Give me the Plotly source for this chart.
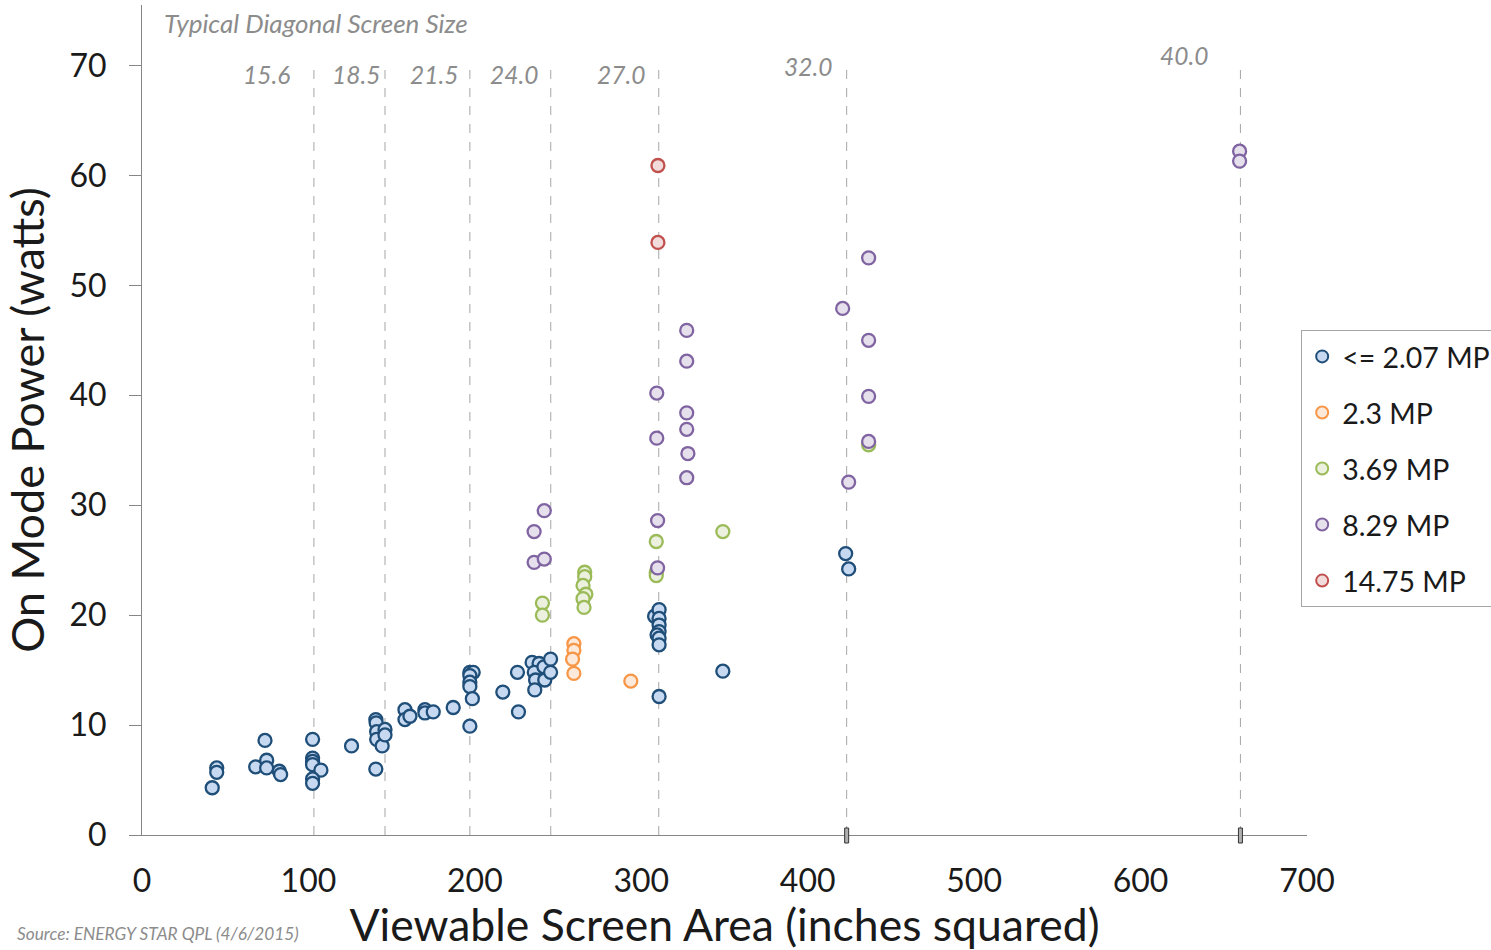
import plotly.graph_objects as go

# ---------------- data ----------------
blue_x = [42.2, 44.9, 44.9, 68.3, 73.9, 74.9, 74.9, 82.5, 83.3, 102.5, 102.5, 102.5, 102.5, 107.5, 102.5, 102.5, 125.9,
          140.5, 140.7, 141.0, 141.0, 144.3, 146.0, 146.0, 140.5,
          158.0, 158.0, 161.0, 170.0, 170.0, 175.0, 187.0,
          197.0, 199.0, 197.0, 197.0, 197.0, 198.5, 197.0,
          216.8, 225.6, 226.2,
          234.4, 238.6, 235.7, 236.5, 236.0, 241.5, 242.0, 245.5, 245.5,
          308.0, 310.7, 310.7, 310.7, 310.7, 309.5, 310.7, 310.7, 310.7, 349.0, 422.8, 424.6]
blue_y = [4.3, 6.1, 5.7, 6.2, 8.6, 6.8, 6.1, 5.8, 5.5, 8.7, 7.0, 6.7, 6.4, 5.9, 5.1, 4.7, 8.1,
          10.5, 10.2, 9.4, 8.7, 8.1, 9.6, 9.1, 6.0,
          11.4, 10.5, 10.8, 11.4, 11.1, 11.2, 11.6,
          14.8, 14.8, 14.5, 13.9, 13.5, 12.4, 9.9,
          13.0, 14.8, 11.2,
          15.7, 15.6, 14.8, 14.1, 13.2, 15.3, 14.1, 16.0, 14.8,
          19.9, 20.5, 19.7, 19.1, 18.5, 18.2, 17.9, 17.3, 12.6, 14.9, 25.6, 24.2]

orange_x = [259.5, 259.5, 258.7, 259.5, 293.7]
orange_y = [17.4, 16.8, 16.0, 14.7, 14.0]

green_x = [240.6, 240.6, 266.0, 266.0, 265.0, 266.7, 265.0, 265.6, 309.0, 309.0, 309.0, 349.0, 436.6]
green_y = [21.1, 20.0, 23.9, 23.5, 22.7, 21.9, 21.5, 20.7, 26.7, 23.9, 23.6, 27.6, 35.5]

purple_x = [235.6, 241.7, 235.6, 241.7, 309.3, 309.3, 309.8, 309.8, 327.3, 327.3, 327.3, 327.3, 328.0, 327.3,
            421.0, 436.6, 436.6, 436.6, 436.6, 424.6, 659.5, 659.5]
purple_y = [27.6, 29.5, 24.8, 25.1, 40.2, 36.1, 28.6, 24.3, 45.9, 43.1, 38.4, 36.9, 34.7, 32.5,
            47.9, 52.5, 45.0, 39.9, 35.8, 32.1, 62.2, 61.3]

red_x = [310.0, 310.0]
red_y = [60.9, 53.9]

series_names = ["<= 2.07 MP", "2.3 MP", "3.69 MP", "8.29 MP", "14.75 MP"]

diag_labels = ["15.6", "18.5", "21.5", "24.0", "27.0", "32.0", "40.0"]
diag_area = [103.3, 146.0, 197.0, 245.6, 310.5, 423.4, 660.0]

x_ticks = [0, 100, 200, 300, 400, 500, 600, 700]
y_ticks = [0, 10, 20, 30, 40, 50, 60, 70]

# ---------------- styling ----------------
fills = ["#c6d9f1", "#fde9d9", "#ebf1de", "#e5e0ec", "#f2dcdb"]
edges = ["#1f4e79", "#f79646", "#9bbb59", "#8064a2", "#c0504d"]
label_gap_px = [22, 3, 10, 11, 12, 13, 30]
label_y = [69.2, 69.2, 69.2, 69.2, 69.2, 69.9, 70.9]
FONT = "Lato"
GREY = "#8c8c8c"
INK = "#1a1a1a"

fig = go.Figure()

# diagonal-size guide lines
for a in diag_area:
    fig.add_shape(type="line", x0=a, x1=a, y0=0, y1=69.8, xref="x", yref="y",
                  line=dict(color="#a6a6a6", width=1, dash="dash"), layer="below")
for a in diag_area[5:]:
    fig.add_shape(type="rect", xref="x", yref="paper", xsizemode="pixel", ysizemode="pixel",
                  xanchor=a, yanchor=0, x0=-2, x1=2, y0=-8, y1=7,
                  line=dict(color="#333333", width=1), fillcolor="#b0b0b0")
for lab, a, g, ly in zip(diag_labels, diag_area, label_gap_px, label_y):
    fig.add_annotation(x=a, y=ly, xref="x", yref="y", text=lab, showarrow=False,
                       xanchor="right", yanchor="middle", xshift=-g,
                       font=dict(family=FONT, size=24.5, color=GREY, style="italic"))

xs = [blue_x, orange_x, green_x, purple_x, red_x]
ys = [blue_y, orange_y, green_y, purple_y, red_y]
for i, (name, x, y) in enumerate(zip(series_names, xs, ys)):
    fig.add_trace(go.Scatter(
        x=x, y=y, mode="markers", name=name, legendgroup=name,
        marker=dict(size=13, color=fills[i], line=dict(color=edges[i], width=2.3)),
    ))

fig.add_annotation(x=20 / 1165, y=1.0, xref="paper", yref="paper", xanchor="left", yanchor="top",
                   text="Typical Diagonal Screen Size", showarrow=False, yshift=0,
                   font=dict(family=FONT, size=26, color=GREY, style="italic"))

fig.add_annotation(x=-127 / 1165, y=-111 / 830, xref="paper", yref="paper",
                   xanchor="left", yanchor="bottom", showarrow=False,
                   text="Source: ENERGY STAR QPL (4/6/2015)",
                   font=dict(family=FONT, size=17.3, color=GREY, style="italic"))

fig.update_layout(
    width=1491, height=950,
    margin=dict(l=142, r=184, t=5, b=115, autoexpand=False),
    paper_bgcolor="white", plot_bgcolor="white",
    font=dict(family=FONT, color=INK),
    showlegend=True,
    legend=dict(x=0.995, xanchor="left", y=0.608, yanchor="top",
                bordercolor="#a6a6a6", borderwidth=1, bgcolor="white",
                font=dict(family=FONT, size=28.5, color=INK),
                tracegroupgap=16, itemsizing="constant"),
    xaxis=dict(range=[0, 700], tickvals=x_ticks, showgrid=False, zeroline=False,
               showline=True, linecolor="#868686", linewidth=1, ticks="",
               ticklabelstandoff=18,
               tickfont=dict(family=FONT, size=32, color=INK),
               title=dict(text="Viewable Screen Area (inches squared)", standoff=8,
                          font=dict(family=FONT, size=44.5, color=INK))),
    yaxis=dict(range=[0, 75.5], tickvals=y_ticks, showgrid=False, zeroline=False,
               showline=True, linecolor="#868686", linewidth=1, ticks="outside",
               ticklen=12, tickcolor="#868686", ticklabelstandoff=16,
               tickfont=dict(family=FONT, size=32, color=INK),
               title=dict(text="On Mode Power (watts)", standoff=10,
                          font=dict(family=FONT, size=45, color=INK))),
)

fig.write_html("out.html", config={"displayModeBar": False},
               post_script="document.body.style.margin='0';")
